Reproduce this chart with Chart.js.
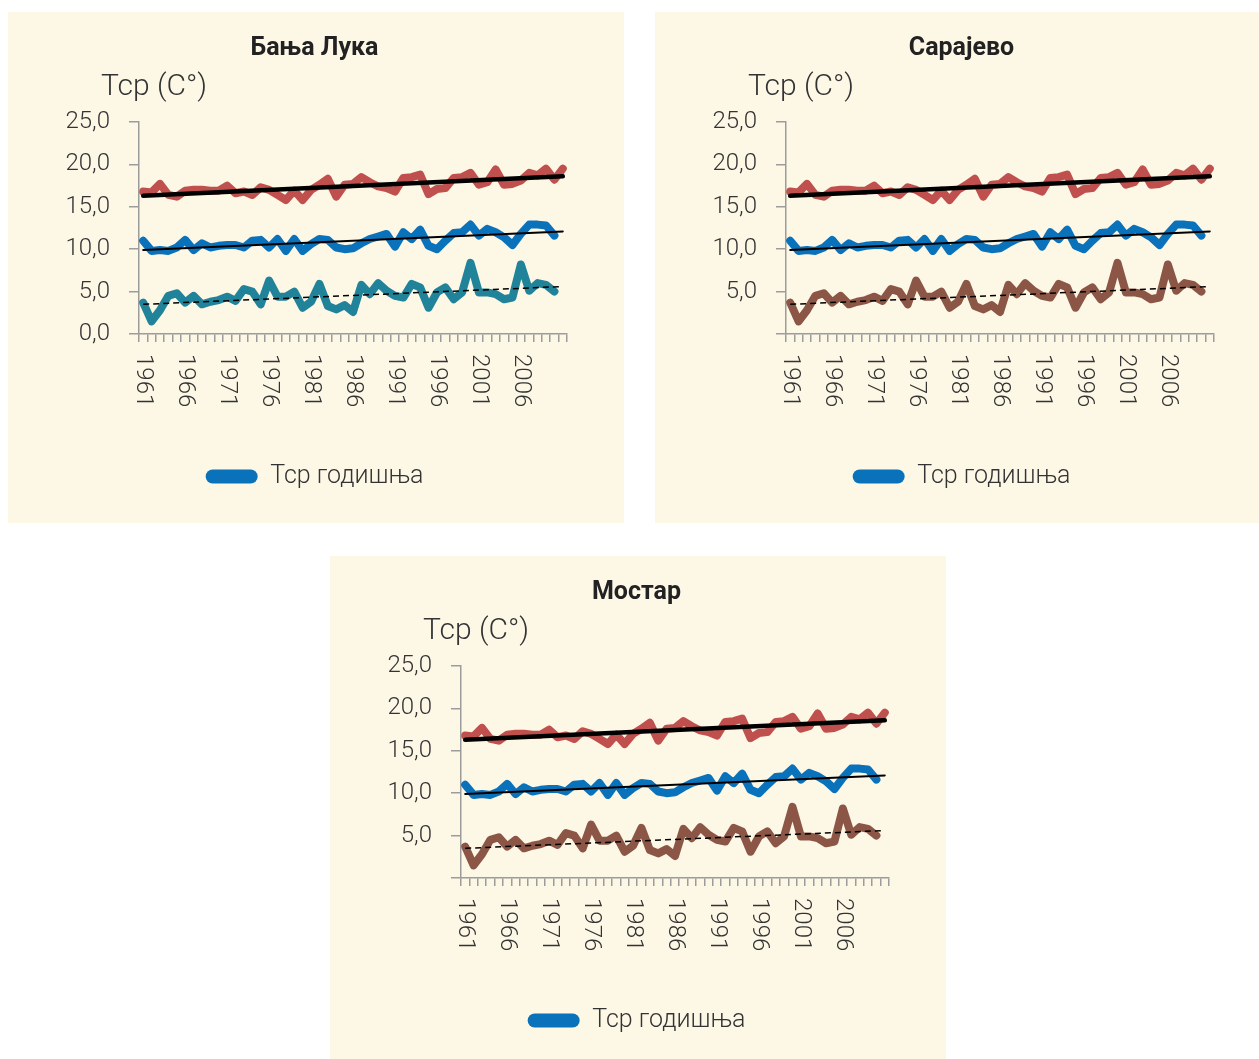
<!DOCTYPE html>
<html>
<head>
<meta charset="utf-8">
<script src="https://cdn.jsdelivr.net/npm/chart.js@4.4.1/dist/chart.umd.min.js"></script>
<style>
  html, body { margin: 0; padding: 0; background: #fff; overflow: hidden; width: 1259px; height: 1059px; }
  .panel { position: absolute; width: 616px; height: 511px; background: #fdf7e6; overflow: hidden; }
  .panel canvas { display: block; }
</style>
</head>
<body>
<div class="panel" style="left:8px;top:12px"><canvas id="c1" width="616" height="511"></canvas></div>
<div class="panel" style="left:655px;top:12px"><canvas id="c2" width="616" height="511"></canvas></div>
<div class="panel" style="left:330px;top:556px"><canvas id="c3" width="616" height="511"></canvas></div>
<script>
// years on the x axis (1961..2011)
const years = ["1961","1962","1963","1964","1965","1966","1967","1968","1969","1970",
  "1971","1972","1973","1974","1975","1976","1977","1978","1979","1980",
  "1981","1982","1983","1984","1985","1986","1987","1988","1989","1990",
  "1991","1992","1993","1994","1995","1996","1997","1998","1999","2000",
  "2001","2002","2003","2004","2005","2006","2007","2008","2009","2010","2011"];

// upper (red) series
const tMax = [16.8, 16.7, 17.7, 16.4, 16.2, 16.9, 17.0, 17.0, 16.9, 16.9,
  17.5, 16.6, 16.8, 16.4, 17.3, 17.0, 16.4, 15.8, 16.9, 15.8,
  17.0, 17.6, 18.3, 16.2, 17.6, 17.7, 18.5, 17.9, 17.4, 17.2,
  16.8, 18.4, 18.5, 18.8, 16.5, 17.1, 17.2, 18.4, 18.5, 19.0,
  17.6, 17.9, 19.4, 17.6, 17.7, 18.1, 19.0, 18.7, 19.5, 18.2, 19.5];

// middle (blue) series - "Тср годишња"
const tAvg = [11.0, 9.8, 9.9, 9.8, 10.2, 11.1, 9.9, 10.7, 10.2, 10.4,
  10.5, 10.5, 10.2, 11.0, 11.1, 10.2, 11.2, 9.8, 11.2, 9.8,
  10.6, 11.2, 11.1, 10.2, 10.0, 10.1, 10.7, 11.2, 11.5, 11.8,
  10.3, 12.0, 11.2, 12.3, 10.4, 10.0, 11.0, 11.9, 12.0, 12.9,
  11.6, 12.4, 12.0, 11.4, 10.5, 11.8, 12.9, 12.9, 12.8, 11.6];

// lower series
const tMin = [3.7, 1.5, 2.8, 4.5, 4.8, 3.7, 4.5, 3.5, 3.8, 4.0,
  4.4, 3.9, 5.3, 5.0, 3.5, 6.3, 4.4, 4.4, 5.0, 3.1,
  3.8, 5.9, 3.3, 2.9, 3.4, 2.6, 5.8, 4.7, 6.0, 5.1,
  4.5, 4.3, 5.9, 5.5, 3.1, 4.9, 5.5, 4.1, 4.9, 8.4,
  4.9, 4.9, 4.7, 4.1, 4.3, 8.2, 5.1, 6.0, 5.8, 5.0];

// linear trend end values (first year, last year)
const tMaxTrend = [16.3, 18.6];
const tAvgTrend = [9.9, 12.1];
const tMinTrend = [3.5, 5.6];

const RED = "#c0504d", BLUE = "#0a72bb", TEAL = "#21839a", BROWN = "#8c5646";
const AXIS = "#9c9c9c", TEXT = "#333";
Chart.defaults.font.family = "Roboto, 'Liberation Sans', sans-serif";

function trend(vals) {
  return [{ x: years[0], y: vals[0] }, { x: years[years.length - 1], y: vals[1] }];
}

// unit label above the y axis + x labels turned clockwise (every 5th year, last one left out)
const extraText = {
  id: "extraText",
  afterDraw(chart, args, opts) {
    const ctx = chart.ctx, xs = chart.scales.x, area = chart.chartArea;
    ctx.save();
    ctx.fillStyle = TEXT;
    ctx.textBaseline = "middle";
    ctx.textAlign = "left";
    ctx.font = "300 30px Roboto, 'Liberation Sans', sans-serif";
    ctx.fillText(opts.unit, area.left - 38, area.top - 35);
    ctx.font = "300 24px Roboto, 'Liberation Sans', sans-serif";
    years.forEach((yr, i) => {
      if (i % 5 || i === years.length - 1) return;
      ctx.save();
      ctx.translate(xs.getPixelForValue(i), xs.top + 20);
      ctx.rotate(Math.PI / 2);
      ctx.fillText(yr, 0, 0);
      ctx.restore();
    });
    ctx.restore();
  }
};

function makeChart(id, station, lowColor, showZero) {
  new Chart(document.getElementById(id), {
    type: "line",
    data: {
      labels: years,
      datasets: [
        { label: "trend max", data: trend(tMaxTrend), borderColor: "#000", borderWidth: 4.5, order: 0 },
        { label: "trend avg", data: trend(tAvgTrend), borderColor: "#000", borderWidth: 2, order: 0 },
        { label: "trend min", data: trend(tMinTrend), borderColor: "#000", borderWidth: 1.5, borderDash: [6, 4], borderCapStyle: "butt", order: 0 },
        { label: "Tmax", data: tMax, borderColor: RED, backgroundColor: RED, borderWidth: 8, order: 1 },
        { label: "Тср годишња", data: tAvg, borderColor: BLUE, backgroundColor: BLUE, borderWidth: 8, order: 1 },
        { label: "Tmin", data: tMin, borderColor: lowColor, backgroundColor: lowColor, borderWidth: 8, order: 1 }
      ]
    },
    options: {
      responsive: false,
      animation: false,
      layout: { padding: { left: 54, right: 57, top: 0, bottom: 24 } },
      elements: {
        point: { radius: 0, hoverRadius: 0 },
        line: { tension: 0, borderJoinStyle: "round", borderCapStyle: "round" }
      },
      plugins: {
        title: {
          display: true, text: station, color: "#222",
          font: { size: 25, weight: "bold" },
          padding: { top: 22, bottom: 58 }
        },
        legend: {
          position: "bottom",
          labels: {
            boxWidth: 52, boxHeight: 14, useBorderRadius: true, borderRadius: 7,
            color: TEXT, padding: 10, font: { size: 25, weight: "300" },
            generateLabels: () => [{
              text: "Тср годишња", fillStyle: BLUE, strokeStyle: BLUE, lineWidth: 0,
              hidden: false, datasetIndex: 4, borderRadius: 7, fontColor: TEXT
            }]
          }
        },
        tooltip: { enabled: false },
        extraText: { unit: "Тср (C°)" }
      },
      scales: {
        x: {
          offset: true,
          grid: { offset: true, drawOnChartArea: false, tickLength: 8, color: AXIS, lineWidth: 1.5 },
          border: { color: AXIS, width: 1.5 },
          ticks: { display: false, autoSkip: false },
          afterFit(s) { s.height = 120; }
        },
        y: {
          min: 0, max: 25,
          grid: { drawOnChartArea: false, tickLength: 10, color: AXIS, lineWidth: 1.5 },
          border: { color: AXIS, width: 1.5 },
          ticks: {
            stepSize: 5, padding: 19, color: TEXT,
            font: { size: 24, weight: "300" },
            callback: v => (v === 0 && !showZero) ? "" : v.toFixed(1).replace(".", ",")
          },
          afterFit(s) { s.width = 77; }
        }
      }
    },
    plugins: [extraText]
  });
}

makeChart("c1", "Бања Лука", TEAL, true);
makeChart("c2", "Сарајево", BROWN, false);
makeChart("c3", "Мостар", BROWN, false);
</script>
</body>
</html>
